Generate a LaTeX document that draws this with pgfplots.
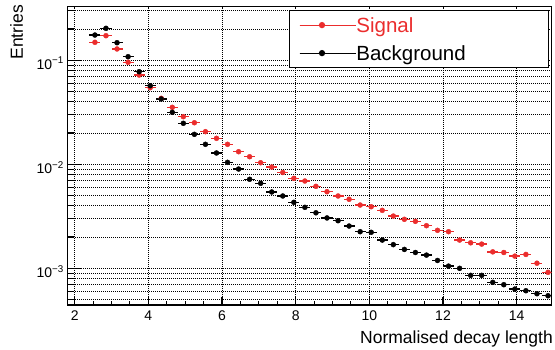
\documentclass[border=0pt]{standalone}
\usepackage{fontspec}
\setmainfont{Liberation Sans}
\usepackage{pgfplots}
\pgfplotsset{compat=1.18}
\definecolor{sigred}{RGB}{235,45,45}
\begin{document}
\begin{tikzpicture}
% background axis: x ticks, x labels, vertical grid
\begin{axis}[
  scale only axis, width=484.4pt, height=298.3pt,
  xmin=1.8, xmax=14.95, ymin=0, ymax=1,
  ytick=\empty, xtick={2,4,...,14}, minor x tick num=3,
  xmajorgrids,
  grid style={line width=0.6pt, black, dash pattern=on 0.6pt off 1.4pt},
  axis line style={draw=none},
  tick align=inside, xtick pos=left,
  major tick length=8pt, minor tick length=4pt,
  tick style={black, line width=1.1pt},
  xticklabel style={font=\fontsize{14}{16}\selectfont, yshift=-2pt},
  /pgf/number format/assume math mode=true,
]
\end{axis}
% main axis
\begin{axis}[
  scale only axis, width=484.4pt, height=298.3pt,
  xmin=1.8, xmax=14.95,
  ymode=log, ymin=4.44e-4, ymax=0.3276,
  xtick=\empty,
  ytick={1e-3,1e-2,1e-1},
  yticklabels={10\textsuperscript{−3},10\textsuperscript{−2},10\textsuperscript{−1}},
  minor ytick={5e-4,6e-4,7e-4,8e-4,9e-4,2e-3,3e-3,4e-3,5e-3,6e-3,7e-3,8e-3,9e-3,2e-2,3e-2,4e-2,5e-2,6e-2,7e-2,8e-2,9e-2,0.2,0.3},
  ymajorgrids, yminorgrids,
  grid style={line width=0.6pt, black, dash pattern=on 0.6pt off 1.4pt},
  tick align=inside, ytick pos=left,
  major tick length=14pt, minor tick length=7pt,
  tick style={black, line width=1.1pt},
  axis line style={line width=1.4pt},
  yticklabel style={font=\fontsize{14}{16}\selectfont, yshift=-3pt},
  legend cell align=left,
  legend image code/.code={
    \draw[#1, line width=1.2pt] (0pt,0pt) -- (45pt,0pt);
    \draw[#1] plot coordinates {(22.5pt,0pt)};
    \path (0pt,0pt) -- (56.3pt,0pt);
  },
  legend style={at={(0.99443,0.98893)}, anchor=north east, draw=black, line width=1.2pt,
    fill=white, inner xsep=9.7pt, inner ysep=6.5pt, row sep=12pt,
    font=\fontsize{20.5}{24}\selectfont,
    nodes={inner sep=0pt, text height=15pt, text depth=1pt, text width=182.3pt, anchor=west},
    cells={anchor=west}},
]
\addplot[sigred, only marks, mark=*, mark size=2.5pt, mark options={draw=sigred, fill=sigred},
  error bars/.cd, x dir=both, x fixed=0.15, error mark=none,
  error bar style={line width=1.3pt, sigred}]
coordinates {
(2.55,0.1489) (2.85,0.1724) (3.15,0.1285) (3.45,0.0957) (3.75,0.0722)
(4.05,0.0545) (4.35,0.0431) (4.65,0.0353) (4.95,0.0287) (5.25,0.0251)
(5.55,0.0206) (5.85,0.01778) (6.15,0.01557) (6.45,0.01322) (6.75,0.01183)
(7.05,0.01036) (7.35,0.00942) (7.65,0.00834) (7.95,0.00733) (8.25,0.00691)
(8.55,0.00614) (8.85,0.00545) (9.15,0.00496) (9.45,0.00461) (9.75,0.00406)
(10.05,0.00391) (10.35,0.00361) (10.65,0.00318) (10.95,0.00296) (11.25,0.00283)
(11.55,0.00257) (11.85,0.00232) (12.15,0.00225) (12.45,0.00187) (12.75,0.00176)
(13.05,0.00171) (13.35,0.00144) (13.65,0.00142) (13.95,0.00131) (14.25,0.00136)
(14.55,0.00112) (14.85,0.000915)
};
\addlegendentry{\textcolor{sigred}{Signal}}
\addplot[black, only marks, mark=*, mark size=2.5pt, mark options={draw=black, fill=black},
  error bars/.cd, x dir=both, x fixed=0.15, error mark=none,
  error bar style={line width=1.3pt, black}]
coordinates {
(2.55,0.175) (2.85,0.203) (3.15,0.1476) (3.45,0.1083) (3.75,0.0777)
(4.05,0.0570) (4.35,0.04245) (4.65,0.0316) (4.95,0.02479) (5.25,0.01943)
(5.55,0.01557) (5.85,0.01285) (6.15,0.01045) (6.45,0.00901) (6.75,0.00718)
(7.05,0.00657) (7.35,0.00542) (7.65,0.00496) (7.95,0.00431) (8.25,0.00386)
(8.55,0.00342) (8.85,0.00305) (9.15,0.00287) (9.45,0.00255) (9.75,0.00225)
(10.05,0.00222) (10.35,0.00187) (10.65,0.00169) (10.95,0.00152) (11.25,0.00142)
(11.55,0.00134) (11.85,0.00119) (12.15,0.00105) (12.45,0.00100) (12.75,0.000856)
(13.05,0.000856) (13.35,0.000733) (13.65,0.000696) (13.95,0.000632) (14.25,0.000609)
(14.55,0.000570) (14.85,0.000545)
};
\addlegendentry{Background}
\end{axis}
\node[rotate=90, anchor=base east, inner sep=0pt, font=\fontsize{17.5}{20}\selectfont] at (-44.3pt,300pt) {Entries};
\node[anchor=base east, inner sep=0pt, font=\fontsize{17.5}{20}\selectfont] at (485.7pt,-38pt) {Normalised decay length};
\pgfresetboundingbox
\path (-67.3pt,-44pt) rectangle (487.7pt,305pt);
\end{tikzpicture}
\end{document}
